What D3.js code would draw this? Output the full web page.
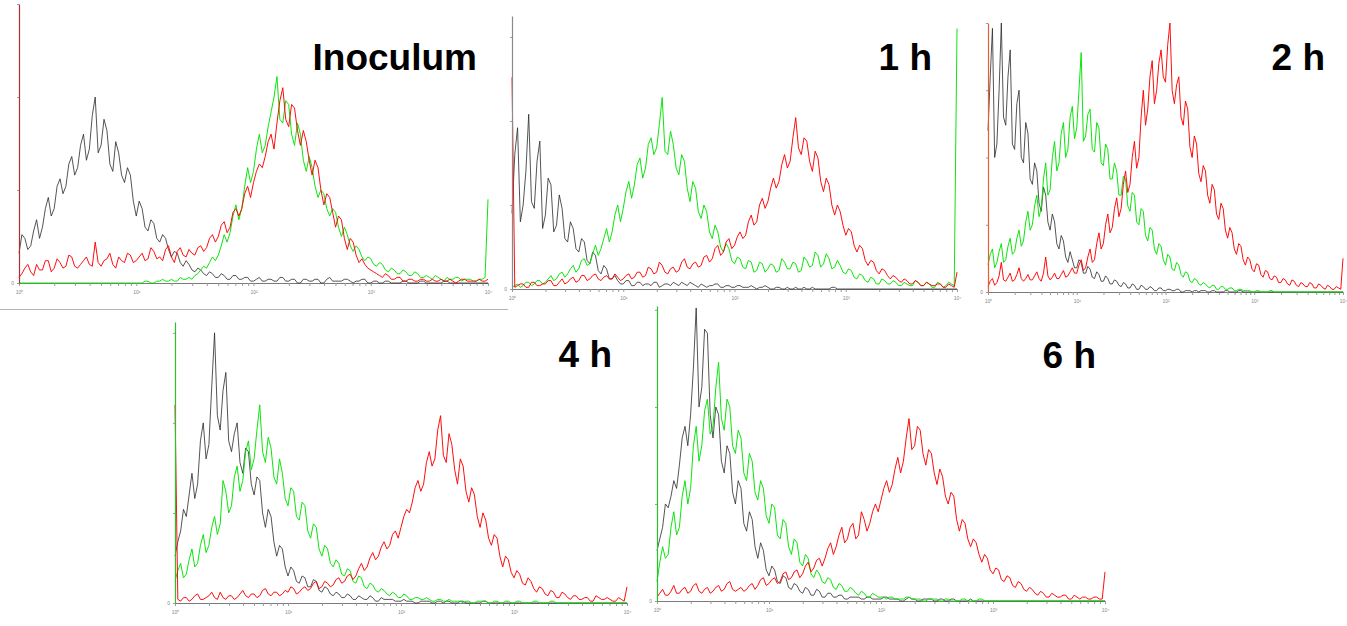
<!DOCTYPE html>
<html>
<head>
<meta charset="utf-8">
<script src="https://cdn.jsdelivr.net/npm/d3@7"></script>
<style>
  body { margin: 0; background: #fff; }
  svg { display: block; }
  .title { font-family: "Liberation Sans", Arial, sans-serif; font-weight: bold; font-size: 37px; fill: #000; }
  .tick text { font-family: "Liberation Sans", Arial, sans-serif; font-size: 5px; fill: #888; }
</style>
</head>
<body>
<div id="chart"></div>
<script>
// time points, one histogram panel each
var timepoints = ["Inoculum", "1 h", "2 h", "4 h", "6 h"];

// log channel grid: 40 bins per decade from 10^0 to 10^4
var bins = d3.range(161).map(i => Math.pow(10, i / 40));
var decadeLabels = ["10\u2070", "10\u00b9", "10\u00b2", "10\u00b3", "10\u2074"];

// counts per bin (black = unstained, green, red), rows of half a decade
var inoculumBlack = [16, 26, 24, 18, 20, 28, 34, 24, 30, 40, 46, 36, 40, 52, 56, 48, 52, 64, 68, 58,
    62, 74, 80, 66, 72, 90, 100, 70, 74, 88, 82, 64, 60, 76, 70, 58, 54, 62, 58, 44,
    36, 44, 40, 30, 28, 34, 32, 24, 22, 26, 24, 18, 14, 17, 16, 11, 9, 12, 10, 7,
    6, 8, 7, 5, 4, 6, 5, 3, 3, 5, 4, 2, 2, 4, 4, 2, 2, 3, 3, 1,
    1, 2, 3, 1, 1, 2, 2, 1, 1, 3, 3, 1, 1, 2, 2, 0, 0, 2, 2, 1,
    1, 2, 2, 0, 0, 2, 3, 1, 1, 1, 1, 2, 2, 1, 0, 1, 1, 2, 2, 0,
    0, 1, 1, 0, 0, 1, 1, 0, 0, 0, 0, 1, 1, 0, 0, 0, 0, 1, 1, 0,
    0, 0, 0, 0, 0, 1, 1, 0, 0, 0, 0, 0, 0, 0, 0, 0, 0, 0, 0, 0, 0];
var inoculumGreen = [0, 0, 0, 0, 0, 0, 0, 0, 0, 0, 0, 0, 0, 0, 0, 0, 0, 0, 0, 0,
    0, 0, 0, 0, 0, 0, 0, 0, 0, 0, 0, 0, 0, 0, 0, 0, 0, 0, 0, 0,
    0, 0, 0, 1, 1, 0, 0, 1, 1, 2, 1, 1, 2, 1, 1, 3, 2, 2, 3, 2,
    4, 5, 7, 9, 8, 11, 14, 12, 15, 20, 26, 22, 27, 36, 42, 34, 40, 52, 62, 54,
    60, 72, 80, 70, 74, 84, 92, 100, 111, 88, 86, 98, 96, 80, 74, 86, 80, 66, 60, 68,
    62, 52, 46, 50, 48, 40, 36, 40, 38, 30, 25, 30, 26, 20, 17, 20, 18, 14, 12, 14,
    13, 10, 9, 11, 10, 7, 6, 8, 7, 5, 5, 7, 6, 4, 4, 6, 5, 3, 3, 4,
    3, 2, 4, 3, 2, 1, 3, 2, 2, 3, 3, 1, 2, 2, 2, 1, 1, 2, 2, 3, 45];
var inoculumRed = [3, 5, 8, 10, 6, 4, 10, 7, 7, 12, 12, 6, 8, 13, 11, 8, 9, 15, 14, 9,
    8, 10, 12, 14, 10, 9, 22, 11, 9, 12, 13, 16, 10, 8, 14, 12, 11, 16, 15, 11,
    12, 14, 16, 12, 13, 19, 17, 13, 14, 12, 18, 20, 14, 11, 17, 19, 15, 14, 18, 16,
    15, 19, 20, 17, 19, 24, 26, 22, 25, 31, 33, 27, 30, 38, 40, 36, 40, 48, 52, 46,
    54, 60, 64, 62, 68, 76, 80, 72, 86, 98, 105, 88, 84, 96, 94, 82, 74, 82, 76, 66,
    58, 66, 62, 50, 42, 48, 46, 38, 30, 36, 34, 24, 18, 24, 22, 15, 11, 13, 10, 8,
    7, 6, 5, 4, 3, 5, 4, 2, 2, 3, 3, 1, 1, 2, 2, 1, 1, 2, 2, 1,
    1, 2, 1, 1, 2, 1, 1, 2, 1, 0, 1, 2, 2, 1, 1, 1, 1, 2, 1, 1, 2];

var hour1Black = [45, 80, 96, 40, 50, 70, 104, 52, 48, 76, 88, 36, 44, 66, 62, 34, 38, 56, 48, 30,
    28, 40, 36, 24, 22, 30, 28, 17, 15, 22, 20, 11, 9, 14, 12, 6, 6, 8, 5, 3,
    3, 5, 5, 2, 2, 4, 4, 2, 3, 3, 2, 4, 4, 1, 2, 3, 3, 2, 4, 3,
    2, 4, 3, 2, 4, 3, 2, 1, 3, 2, 1, 2, 2, 3, 3, 1, 1, 2, 2, 1,
    1, 2, 2, 1, 1, 1, 2, 1, 0, 1, 1, 2, 1, 0, 0, 1, 1, 0, 0, 1,
    0, 0, 1, 0, 0, 1, 0, 0, 1, 0, 0, 0, 0, 0, 0, 1, 1, 0, 0, 0,
    0, 0, 0, 0, 0, 0, 0, 0, 0, 0, 0, 0, 0, 0, 0, 0, 0, 0, 0, 0,
    0, 0, 0, 0, 0, 0, 0, 0, 0, 0, 0, 0, 0, 0, 0, 0, 0, 0, 0, 0, 0];
var hour1Green = [1, 2, 3, 1, 2, 4, 4, 2, 3, 5, 5, 3, 4, 6, 8, 5, 6, 9, 10, 7,
    9, 12, 14, 10, 12, 17, 18, 14, 15, 21, 26, 20, 24, 30, 36, 28, 34, 44, 50, 40,
    48, 58, 64, 54, 62, 74, 78, 66, 72, 86, 90, 80, 84, 98, 114, 82, 80, 94, 86, 72,
    68, 80, 76, 60, 52, 64, 60, 46, 42, 50, 46, 34, 30, 38, 34, 25, 22, 27, 24, 17,
    15, 19, 18, 13, 12, 17, 16, 10, 11, 16, 15, 10, 12, 15, 14, 10, 11, 18, 16, 12,
    12, 16, 15, 10, 11, 19, 17, 13, 14, 22, 20, 13, 15, 21, 18, 12, 13, 17, 14, 10,
    9, 12, 11, 7, 6, 9, 8, 5, 4, 7, 6, 3, 3, 6, 5, 3, 3, 5, 4, 2,
    2, 4, 3, 2, 2, 5, 4, 2, 2, 4, 3, 1, 1, 4, 3, 1, 2, 4, 3, 2, 155];
var hour1Red = [126, 1, 2, 3, 3, 1, 1, 4, 4, 2, 2, 3, 3, 5, 5, 2, 2, 4, 6, 3,
    4, 6, 7, 4, 5, 8, 8, 5, 6, 8, 9, 6, 5, 7, 8, 6, 6, 9, 7, 5,
    6, 8, 9, 6, 7, 10, 10, 7, 8, 13, 12, 9, 10, 16, 14, 10, 9, 12, 13, 10,
    11, 16, 18, 13, 12, 15, 16, 13, 14, 19, 20, 16, 18, 24, 26, 20, 22, 28, 30, 24,
    26, 31, 34, 30, 32, 40, 44, 38, 40, 50, 54, 48, 52, 60, 66, 60, 64, 74, 80, 72,
    76, 90, 102, 84, 80, 90, 88, 76, 70, 82, 78, 64, 58, 66, 62, 50, 44, 50, 46, 38,
    32, 36, 34, 26, 22, 26, 24, 17, 14, 17, 16, 11, 9, 12, 11, 8, 6, 8, 7, 5,
    4, 6, 5, 3, 3, 5, 4, 2, 2, 4, 3, 2, 2, 3, 3, 1, 1, 3, 2, 1, 10];

var hour2Black = [120, 160, 196, 100, 110, 150, 200, 130, 124, 160, 180, 110, 106, 140, 150, 100, 96, 126, 118, 84,
    80, 96, 90, 66, 60, 78, 72, 52, 46, 58, 52, 36, 32, 42, 38, 26, 22, 30, 24, 18,
    18, 24, 22, 14, 14, 19, 17, 11, 10, 15, 13, 8, 8, 12, 10, 6, 6, 9, 8, 5,
    4, 7, 6, 3, 3, 6, 5, 2, 2, 5, 4, 2, 2, 4, 3, 1, 1, 3, 3, 1,
    1, 2, 2, 1, 1, 2, 2, 0, 0, 1, 1, 1, 0, 1, 1, 0, 1, 1, 1, 0,
    0, 1, 1, 0, 0, 0, 0, 1, 1, 0, 0, 0, 0, 1, 1, 0, 0, 0, 0, 0,
    0, 0, 0, 0, 0, 0, 0, 0, 0, 0, 0, 0, 0, 0, 0, 0, 0, 0, 0, 0,
    0, 0, 0, 0, 0, 0, 0, 0, 0, 0, 0, 0, 0, 0, 0, 0, 0, 0, 0, 0, 0];
var hour2Green = [20, 28, 32, 18, 22, 30, 36, 22, 24, 34, 40, 28, 30, 40, 46, 34, 38, 52, 60, 46,
    50, 64, 72, 56, 62, 84, 96, 72, 76, 100, 112, 90, 96, 118, 126, 100, 106, 130, 138, 114,
    122, 150, 178, 112, 116, 132, 136, 106, 104, 126, 122, 96, 94, 110, 106, 84, 84, 96, 90, 72,
    72, 86, 84, 64, 60, 74, 72, 52, 50, 62, 60, 42, 38, 48, 46, 32, 28, 36, 34, 24,
    20, 28, 26, 17, 16, 22, 20, 13, 11, 15, 14, 8, 7, 10, 9, 6, 5, 7, 6, 4,
    3, 5, 5, 2, 2, 4, 4, 2, 2, 3, 3, 1, 1, 2, 2, 1, 1, 1, 1, 0,
    0, 1, 1, 0, 0, 0, 0, 1, 1, 0, 0, 0, 0, 0, 0, 0, 0, 0, 0, 0,
    0, 0, 0, 0, 0, 0, 0, 0, 0, 0, 0, 0, 0, 0, 0, 0, 0, 0, 0, 0, 0];
var hour2Red = [4, 8, 10, 5, 7, 12, 22, 9, 8, 11, 14, 8, 9, 13, 18, 10, 8, 10, 13, 9,
    9, 12, 15, 10, 8, 14, 26, 12, 9, 11, 14, 10, 10, 13, 16, 11, 12, 15, 18, 14,
    14, 20, 24, 16, 18, 26, 32, 22, 24, 36, 44, 32, 36, 50, 58, 44, 48, 62, 70, 56,
    62, 80, 90, 74, 80, 100, 112, 92, 100, 130, 150, 124, 136, 160, 172, 140, 150, 170, 180, 160,
    156, 184, 200, 150, 140, 154, 160, 130, 124, 142, 136, 108, 100, 116, 110, 88, 82, 94, 90, 72,
    66, 80, 76, 58, 54, 66, 62, 46, 40, 48, 44, 32, 28, 36, 34, 24, 20, 26, 24, 17,
    15, 21, 20, 13, 11, 16, 15, 10, 9, 12, 11, 7, 7, 10, 9, 6, 5, 9, 8, 5,
    4, 7, 6, 4, 4, 7, 6, 3, 3, 6, 5, 3, 2, 5, 4, 2, 2, 4, 3, 2, 25];

var hour4Black = [26, 34, 40, 52, 48, 60, 72, 58, 66, 90, 100, 80, 88, 120, 150, 104, 96, 118, 128, 90,
    84, 94, 100, 78, 72, 86, 84, 66, 60, 70, 68, 50, 42, 52, 48, 34, 26, 32, 30, 20,
    15, 20, 18, 12, 11, 15, 14, 9, 9, 13, 12, 7, 6, 9, 8, 5, 4, 6, 5, 3,
    3, 5, 4, 2, 2, 4, 3, 2, 2, 4, 3, 1, 1, 3, 2, 2, 2, 2, 1, 1,
    1, 2, 1, 1, 1, 0, 0, 1, 1, 1, 1, 0, 0, 1, 1, 0, 1, 1, 0, 0,
    0, 1, 1, 0, 0, 0, 0, 0, 0, 1, 1, 0, 0, 0, 0, 0, 0, 0, 0, 0,
    0, 0, 0, 0, 0, 0, 0, 0, 0, 0, 0, 0, 0, 0, 0, 0, 0, 0, 0, 0,
    0, 0, 0, 0, 0, 0, 0, 0, 0, 0, 0, 0, 0, 0, 0, 0, 0, 0, 0, 0, 0];
var hour4Green = [12, 18, 22, 14, 16, 24, 30, 20, 22, 32, 38, 28, 32, 42, 48, 38, 44, 68, 62, 50,
    54, 70, 76, 62, 68, 84, 90, 74, 80, 96, 110, 84, 78, 92, 86, 70, 66, 80, 72, 58,
    54, 64, 62, 48, 46, 56, 54, 40, 36, 44, 42, 30, 26, 32, 30, 22, 20, 24, 22, 16,
    15, 19, 18, 12, 11, 15, 14, 9, 8, 11, 10, 7, 6, 8, 7, 5, 4, 6, 5, 3,
    3, 5, 4, 2, 2, 3, 3, 2, 2, 3, 2, 1, 1, 2, 2, 1, 1, 2, 1, 1,
    1, 1, 0, 1, 1, 0, 0, 1, 1, 1, 1, 0, 0, 1, 1, 0, 0, 1, 1, 0,
    0, 1, 1, 0, 0, 0, 0, 1, 1, 0, 0, 0, 0, 1, 1, 0, 0, 0, 0, 0,
    0, 0, 0, 0, 0, 0, 0, 0, 0, 0, 0, 0, 0, 0, 0, 0, 0, 0, 0, 0, 0];
var hour4Red = [110, 2, 1, 3, 3, 1, 2, 4, 5, 2, 2, 3, 4, 6, 3, 2, 6, 3, 2, 4,
    4, 2, 3, 5, 7, 4, 3, 5, 5, 3, 4, 7, 8, 5, 4, 6, 6, 4, 5, 7,
    6, 9, 8, 5, 6, 8, 9, 7, 8, 11, 12, 8, 9, 12, 11, 9, 10, 13, 14, 11,
    12, 15, 16, 13, 15, 19, 22, 18, 20, 25, 28, 24, 26, 31, 34, 30, 32, 38, 40, 36,
    42, 48, 52, 50, 56, 64, 68, 62, 66, 78, 84, 76, 80, 96, 104, 82, 78, 94, 88, 74,
    66, 80, 76, 62, 56, 64, 60, 48, 42, 50, 46, 36, 32, 38, 36, 26, 20, 26, 24, 17,
    14, 18, 16, 11, 10, 14, 12, 8, 6, 9, 8, 5, 4, 7, 6, 3, 3, 6, 5, 3,
    2, 4, 4, 2, 2, 3, 3, 1, 1, 4, 3, 2, 2, 3, 2, 1, 1, 3, 2, 1, 9];

var hour6Black = [26, 32, 38, 50, 48, 54, 62, 58, 70, 84, 90, 80, 96, 120, 151, 100, 110, 140, 138, 96,
    84, 100, 96, 72, 66, 80, 76, 56, 50, 62, 58, 40, 36, 46, 42, 28, 22, 30, 26, 16,
    13, 18, 16, 10, 9, 13, 12, 7, 6, 9, 8, 5, 4, 7, 6, 3, 3, 6, 5, 2,
    2, 4, 4, 2, 2, 3, 3, 1, 1, 2, 2, 2, 2, 1, 1, 2, 2, 1, 1, 1,
    1, 2, 2, 1, 1, 1, 1, 0, 0, 1, 2, 1, 1, 0, 0, 1, 1, 1, 1, 0,
    0, 1, 1, 0, 0, 1, 1, 0, 0, 0, 0, 0, 1, 0, 0, 0, 0, 0, 0, 0,
    0, 0, 0, 0, 0, 0, 0, 0, 0, 0, 0, 0, 0, 0, 0, 0, 0, 0, 0, 0,
    0, 0, 0, 0, 0, 0, 0, 0, 0, 0, 0, 0, 0, 0, 0, 0, 0, 0, 0, 0, 0];
var hour6Green = [10, 20, 28, 22, 24, 38, 46, 34, 38, 54, 62, 50, 58, 80, 90, 72, 80, 98, 104, 86,
    90, 110, 123, 94, 88, 104, 100, 80, 76, 88, 84, 66, 62, 76, 72, 56, 52, 62, 58, 44,
    40, 50, 48, 34, 32, 42, 40, 28, 24, 32, 30, 20, 18, 24, 22, 14, 12, 16, 14, 10,
    9, 12, 11, 7, 6, 9, 8, 5, 5, 7, 6, 4, 3, 5, 4, 2, 2, 4, 3, 2,
    2, 2, 1, 2, 2, 1, 1, 1, 1, 2, 2, 1, 1, 1, 1, 0, 0, 1, 1, 1,
    1, 0, 0, 1, 1, 0, 0, 0, 0, 1, 1, 0, 0, 0, 0, 1, 1, 0, 0, 0,
    0, 0, 0, 0, 0, 0, 0, 0, 0, 0, 0, 0, 0, 0, 0, 0, 0, 0, 0, 0,
    0, 0, 0, 0, 0, 0, 0, 0, 0, 0, 0, 0, 0, 0, 0, 0, 0, 0, 0, 0, 0];
var hour6Red = [2, 4, 6, 3, 3, 5, 8, 4, 4, 6, 7, 4, 5, 8, 9, 5, 4, 6, 7, 4,
    5, 7, 8, 5, 6, 9, 10, 6, 5, 6, 7, 5, 6, 8, 9, 6, 8, 11, 12, 8,
    9, 11, 12, 9, 10, 14, 15, 11, 12, 15, 16, 12, 14, 18, 20, 15, 17, 21, 22, 18,
    22, 27, 30, 24, 28, 34, 38, 30, 32, 38, 40, 32, 34, 46, 42, 36, 40, 46, 50, 46,
    52, 58, 62, 56, 60, 68, 74, 66, 72, 84, 94, 78, 80, 90, 88, 76, 70, 78, 76, 66,
    60, 68, 64, 54, 50, 56, 54, 42, 36, 42, 40, 32, 28, 32, 30, 24, 20, 24, 22, 16,
    14, 17, 16, 11, 10, 13, 12, 8, 7, 10, 9, 6, 5, 7, 6, 4, 3, 5, 4, 2,
    2, 4, 3, 2, 2, 3, 3, 1, 1, 3, 2, 1, 2, 2, 1, 1, 2, 2, 1, 1, 15];

var seriesColors = ["#2a2a2a", "#00e400", "#ff0000"];

// panel layout in page pixels
var panels = [
    {left: 19,  right: 488,  base: 283, top: 4,   yMax: 150,   axisColor: "#a83232", tx: 477,  ty: 70,
     series: [inoculumBlack, inoculumGreen, inoculumRed]},
    {left: 512, right: 957,  base: 289, top: 16,  yMax: 162.5, axisColor: "#8a8a8a", tx: 932,  ty: 70,
     series: [hour1Black, hour1Green, hour1Red]},
    {left: 988, right: 1343, base: 292, top: 23,  yMax: 200,   axisColor: "#e0603a", tx: 1325, ty: 70,
     series: [hour2Black, hour2Green, hour2Red]},
    {left: 175, right: 627,  base: 603, top: 322, yMax: 156,   axisColor: "#2cc02c", tx: 612,  ty: 367,
     series: [hour4Black, hour4Green, hour4Red]},
    {left: 657, right: 1105, base: 601, top: 306, yMax: 152,   axisColor: "#2cc02c", tx: 1096, ty: 368,
     series: [hour6Black, hour6Green, hour6Red]}
];

var w = 1347;
var h = 626;

var svg = d3.select("#chart")
    .append("svg")
    .attr("width", w)
    .attr("height", h);

// thin rule under the inoculum panel
svg.append("line")
    .attr("x1", 0).attr("x2", 508)
    .attr("y1", 309.5).attr("y2", 309.5)
    .attr("stroke", "#b4b4b4")
    .attr("stroke-width", 1);

panels.forEach(function(p, k) {
    var xScale = d3.scaleLog()
        .domain([1, 10000])
        .range([p.left, p.right]);

    var yScale = d3.scaleLinear()
        .domain([0, p.yMax])
        .range([p.base, p.top]);

    var g = svg.append("g");

    // x axis: decades labelled, log minor ticks
    var xAxis = d3.axisBottom(xScale)
        .tickValues(xScale.ticks())
        .tickSize(3)
        .tickSizeOuter(0)
        .tickFormat(function(d) {
            var e = Math.round(Math.log10(d));
            return Math.abs(Math.log10(d) - e) < 1e-9 ? decadeLabels[e] : "";
        });

    var xAxisGroup = g.append("g")
        .attr("transform", `translate(0,${p.base})`)
        .call(xAxis);
    xAxisGroup.select(".domain").attr("stroke", "#7a7a7a");
    xAxisGroup.selectAll(".tick line").attr("stroke", "#9a9a9a");
    xAxisGroup.selectAll(".tick text").attr("dy", "0.9em");

    // histogram lines
    var line = d3.line()
        .x((v, i) => xScale(bins[i]))
        .y(v => yScale(v));

    p.series.forEach(function(values, s) {
        g.append("path")
            .datum(values)
            .attr("fill", "none")
            .attr("stroke", seriesColors[s])
            .attr("stroke-width", 1)
            .attr("stroke-opacity", s === 0 ? 0.8 : 0.95)
            .attr("d", line);
    });

    // y axis drawn over the first channel
    var yAxisGroup = g.append("g")
        .attr("transform", `translate(${p.left},0)`)
        .call(d3.axisLeft(yScale)
            .tickValues(d3.range(0, p.yMax + 1, 50))
            .tickSize(2)
            .tickSizeOuter(0)
            .tickFormat(d => d === 0 ? "0" : ""));
    yAxisGroup.select(".domain").attr("stroke", p.axisColor).attr("stroke-width", 1.2);
    yAxisGroup.selectAll(".tick line").attr("stroke", "#9a9a9a");

    // time point label
    svg.append("text")
        .attr("class", "title")
        .attr("text-anchor", "end")
        .attr("x", p.tx)
        .attr("y", p.ty)
        .text(timepoints[k]);
});
</script>
</body>
</html>
